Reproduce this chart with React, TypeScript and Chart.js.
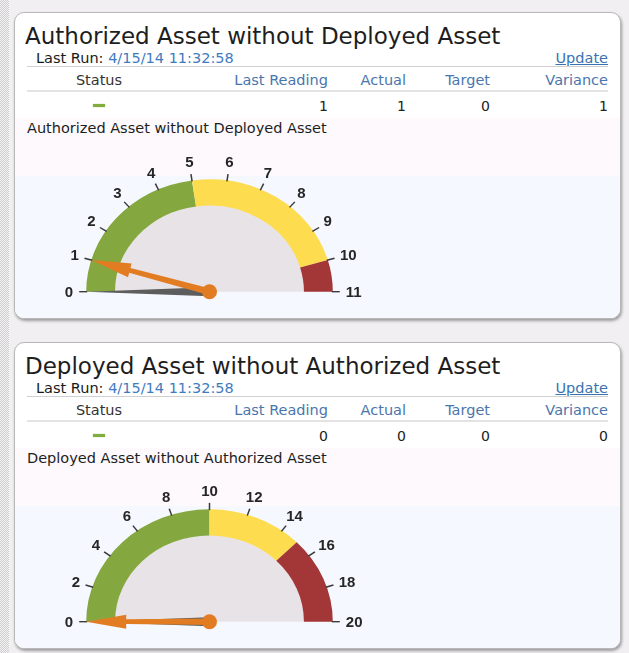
import React, { useEffect, useRef } from "react";
import { Chart, registerables } from "chart.js";

Chart.register(...registerables);

// ---------- data ----------
const panelTitles = [
  "Authorized Asset without Deployed Asset",
  "Deployed Asset without Authorized Asset",
];
const lastRunTimes = ["4/15/14 11:32:58", "4/15/14 11:32:58"];
const columnHeaders = ["Status", "Last Reading", "Actual", "Target", "Variance"];
const lastReadings = [1, 0];
const actuals = [1, 0];
const targets = [0, 0];
const variances = [1, 0];

const bandLabels = ["Green", "Yellow", "Red"];
const bandColors = ["#84a83f", "#fddc4f", "#a33636"];
const gauge1Bands = [5, 5, 1];
const gauge2Bands = [10, 5, 5];
const gauge1Ticks = [0, 1, 2, 3, 4, 5, 6, 7, 8, 9, 10, 11];
const gauge2Ticks = [0, 2, 4, 6, 8, 10, 12, 14, 16, 18, 20];

const FONT = '"DejaVu Sans", Verdana, sans-serif';

// ---------- gauge plugin ----------
const gaugePlugin: any = {
  id: "gauge",
  beforeDatasetsDraw(chart: any, _a: any, o: any) {
    const arc: any = chart.getDatasetMeta(0).data[0];
    const { x, y, innerRadius } = arc;
    const ctx = chart.ctx;
    ctx.save();
    ctx.translate(x, y);
    ctx.scale(1, o.squash);
    ctx.translate(-x, -y);
    ctx.beginPath();
    ctx.moveTo(x - innerRadius - 0.5, y);
    ctx.arc(x, y, innerRadius + 0.5, Math.PI, 2 * Math.PI);
    ctx.closePath();
    ctx.fillStyle = "#e8e3e7";
    ctx.fill();
  },
  afterDatasetsDraw(chart: any, _a: any, o: any) {
    const arc: any = chart.getDatasetMeta(0).data[0];
    const { x, y, outerRadius: R } = arc;
    const ctx = chart.ctx;
    const ang = (v: number) => Math.PI - (v / o.max) * Math.PI;
    // tick marks (in squashed space)
    ctx.strokeStyle = "#3a3a3a";
    ctx.lineWidth = 1.5;
    o.ticks.forEach((t: number) => {
      const a = ang(t);
      ctx.beginPath();
      ctx.moveTo(x + Math.cos(a) * (R - 1), y - Math.sin(a) * (R - 1));
      ctx.lineTo(x + Math.cos(a) * (R + 7), y - Math.sin(a) * (R + 7));
      ctx.stroke();
    });
    ctx.restore();

    const pt = (v: number, r: number) => {
      const a = ang(v);
      return [x + Math.cos(a) * r, y - Math.sin(a) * r * o.squash];
    };

    ctx.save();
    // labels
    ctx.font = 'bold 15px "Liberation Sans", Arial, sans-serif';
    ctx.fillStyle = "#262626";
    ctx.textAlign = "center";
    ctx.textBaseline = "middle";
    o.ticks.forEach((t: number) => {
      const a = ang(t);
      const s = String(t);
      const w = ctx.measureText(s).width;
      const [bx, by] = pt(t, R + 10);
      ctx.fillText(s, bx + Math.cos(a) * (w / 2 + 3), by - Math.sin(a) * 10 + 1.5);
    });

    // target needle (gray wedge)
    {
      const [tx, ty] = pt(o.target, R);
      const dx = tx - x, dy = ty - y;
      const L = Math.hypot(dx, dy);
      const nx = -dy / L, ny = dx / L;
      ctx.beginPath();
      ctx.moveTo(x + nx * 4.5, y + ny * 4.5);
      ctx.lineTo(tx, ty);
      ctx.lineTo(x - nx * 4.5, y - ny * 4.5);
      ctx.closePath();
      ctx.fillStyle = "#5d5d5d";
      ctx.fill();
    }
    // actual needle (orange arrow)
    {
      const [tx, ty] = pt(o.value, R);
      const dx = tx - x, dy = ty - y;
      const L = Math.hypot(dx, dy);
      const ux = dx / L, uy = dy / L;
      const nx = -uy, ny = ux;
      const bx = tx - ux * 40, by = ty - uy * 40;
      ctx.fillStyle = "#e27c22";
      ctx.beginPath();
      ctx.moveTo(x + nx * 3.3, y + ny * 3.3);
      ctx.lineTo(bx + nx * 2.4, by + ny * 2.4);
      ctx.lineTo(bx + nx * 7, by + ny * 7);
      ctx.lineTo(tx, ty);
      ctx.lineTo(bx - nx * 7, by - ny * 7);
      ctx.lineTo(bx - nx * 2.4, by - ny * 2.4);
      ctx.lineTo(x - nx * 3.3, y - ny * 3.3);
      ctx.closePath();
      ctx.fill();
      ctx.beginPath();
      ctx.arc(x, y, 7.5, 0, Math.PI * 2);
      ctx.fill();
    }
    ctx.restore();
  },
};

function Gauge(props: { bands: number[]; ticks: number[]; value: number; target: number; top: number }) {
  const ref = useRef<HTMLCanvasElement>(null);
  useEffect(() => {
    const max = props.bands.reduce((a, b) => a + b, 0);
    const chart = new Chart(ref.current as HTMLCanvasElement, {
      type: "doughnut",
      data: {
        labels: bandLabels,
        datasets: [
          {
            data: props.bands,
            backgroundColor: bandColors,
            borderWidth: 0,
            clip: false,
          } as any,
        ],
      },
      options: {
        responsive: false,
        animation: false,
        events: [],
        rotation: -90,
        circumference: 180,
        cutout: "76.6%",
        layout: { padding: { left: 66.2, right: 47.2, top: 28.4, bottom: 23.3 } },
        plugins: {
          legend: { display: false },
          tooltip: { enabled: false },
          gauge: { ticks: props.ticks, max, value: props.value, target: props.target, squash: 0.912 },
        } as any,
      } as any,
      plugins: [gaugePlugin],
    });
    return () => chart.destroy();
  }, []);
  return (
    <canvas
      ref={ref}
      width={360}
      height={175}
      style={{ position: "absolute", left: 20, top: props.top, width: 360, height: 175 }}
    />
  );
}

const abs = (left: number, top: number, extra: any = {}): any => ({
  position: "absolute",
  left,
  top,
  whiteSpace: "nowrap",
  ...extra,
});

function Panel(props: { i: number }) {
  const i = props.i;
  const dy = 330 * i;
  const rightEdges = [0, 328, 406, 490, 608];
  const values = [null, lastReadings[i], actuals[i], targets[i], variances[i]];
  const textRow = (cy: number, size: number) => ({
    fontFamily: FONT,
    fontSize: size,
    lineHeight: "18px",
    height: 18,
    top: cy - 9 + dy,
  });
  return (
    <>
      <div
        style={abs(14, 12 + dy, {
          width: 605,
          height: 305,
          border: "1px solid #b8b8b8",
          borderRadius: 10,
          boxShadow: "1px 2px 3px rgba(0,0,0,0.35)",
          overflow: "hidden",
          background: "#ffffff",
        })}
      >
        <div style={abs(0, 105, { width: 605, height: 58, background: "#fdf9fd" })} />
        <div style={abs(0, 163, { width: 605, height: 150, background: "#f5f8fe" })} />
      </div>
      <div
        style={{
          position: "absolute",
          left: 25,
          top: 22 + dy,
          height: 28,
          lineHeight: "28px",
          fontFamily: FONT,
          fontSize: 23,
          color: "#1e1e1e",
          whiteSpace: "nowrap",
        }}
      >
        {panelTitles[i]}
      </div>
      <div style={{ position: "absolute", left: 36, whiteSpace: "nowrap", color: "#1a1a1a", ...textRow(58, 14.5) }}>
        Last Run: <span style={{ color: "#3f7bbf" }}>{lastRunTimes[i]}</span>
      </div>
      <div
        style={{
          position: "absolute",
          right: 629 - 608,
          whiteSpace: "nowrap",
          color: "#3a73b0",
          textDecoration: "underline",
          ...textRow(58, 14.5),
        }}
      >
        Update
      </div>
      <div style={abs(27, 66 + dy, { width: 581, height: 1, background: "#d0d0d0" })} />
      <div style={abs(27, 90 + dy, { width: 581, height: 2, background: "#e3e3e3" })} />
      <div style={{ position: "absolute", left: 49, width: 100, textAlign: "center", color: "#333", ...textRow(80, 14.5) }}>
        {columnHeaders[0]}
      </div>
      {columnHeaders.slice(1).map((h, k) => (
        <div
          key={h}
          style={{
            position: "absolute",
            right: 629 - rightEdges[k + 1],
            whiteSpace: "nowrap",
            color: "#4a76ad",
            ...textRow(80, 14.5),
          }}
        >
          {h}
        </div>
      ))}
      <div
        style={abs(93, 103.5 + dy, {
          width: 12,
          height: 3.5,
          background: "#80ad3c",
          boxShadow: "0 0 1px #6b9a2c",
        })}
      />
      {values.slice(1).map((v, k) => (
        <div
          key={k}
          style={{
            position: "absolute",
            right: 629 - rightEdges[k + 1],
            whiteSpace: "nowrap",
            color: "#222",
            ...textRow(106, 14),
          }}
        >
          {String(v)}
        </div>
      ))}
      <div style={{ position: "absolute", left: 27, whiteSpace: "nowrap", color: "#1e1e1e", ...textRow(128, 14.5) }}>
        {panelTitles[i]}
      </div>
      <Gauge
        bands={i === 0 ? gauge1Bands : gauge2Bands}
        ticks={i === 0 ? gauge1Ticks : gauge2Ticks}
        value={actuals[i]}
        target={targets[i]}
        top={140 + dy}
      />
    </>
  );
}

export default function App() {
  return (
    <div
      style={{
        position: "absolute",
        left: 0,
        top: 0,
        width: 629,
        height: 653,
        background: "#f1eff1",
        overflow: "hidden",
      }}
    >
      <div
        style={{
          position: "absolute",
          left: 0,
          top: 0,
          width: 9,
          height: 653,
          background: "repeating-conic-gradient(#cfcfcf 0 25%, #f3f3f3 0 50%) 0 0 / 2px 2px",
        }}
      />
      <Panel i={0} />
      <Panel i={1} />
    </div>
  );
}
